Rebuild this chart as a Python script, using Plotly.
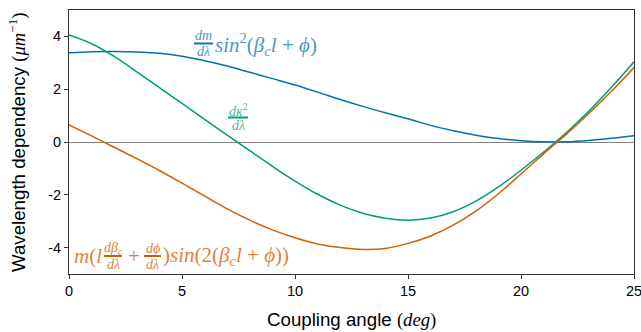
import plotly.graph_objects as go

# ---- data ----
angle = list(range(0, 26))
dm_term = [3.38, 3.42, 3.43, 3.41, 3.36, 3.25, 3.08, 2.88, 2.64, 2.40, 2.16, 1.89, 1.61,
           1.35, 1.11, 0.88, 0.63, 0.43, 0.26, 0.13, 0.05, 0.01, 0.01, 0.06, 0.14, 0.24]
dkappa_term = [4.05, 3.72, 3.24, 2.66, 2.06, 1.46, 0.86, 0.26, -0.33, -0.92, -1.48, -1.98, -2.39,
               -2.70, -2.89, -2.96, -2.88, -2.64, -2.24, -1.70, -1.07, -0.38, 0.35, 1.16, 2.07, 3.04]
dbeta_term = [0.65, 0.23, -0.20, -0.63, -1.08, -1.56, -2.05, -2.53, -2.96, -3.33, -3.63, -3.86, -4.00,
              -4.07, -4.03, -3.84, -3.56, -3.15, -2.62, -1.96, -1.21, -0.45, 0.29, 1.08, 1.92, 2.82]
xticks = [0, 5, 10, 15, 20, 25]
yticks = [-4, -2, 0, 2, 4]
yticklabels = ["-4", "-2", "0", "2", "4"]

BLUE, GREEN, ORANGE = "#0072B2", "#009E73", "#D55E00"
BLUE_T, GREEN_T, ORANGE_T = "rgba(0,114,178,0.75)", "rgba(0,158,115,0.75)", "rgba(213,94,0,0.8)"
MATH = "Liberation Serif"
L, R, T, B = 69, 7, 10, 58
W, H = 641, 332
PW, PH = W - L - R, H - T - B

fig = go.Figure()
for y, c in [(dm_term, BLUE), (dkappa_term, GREEN), (dbeta_term, ORANGE)]:
    fig.add_trace(go.Scatter(x=angle, y=y, mode="lines", line=dict(color=c, width=1.5, shape="spline"),
                             showlegend=False, hoverinfo="skip"))

# pixel -> paper helpers for label placement
def X(px):
    return (px - L) / PW


def Y(py):
    return 1 - (py - T) / PH


def txt(px, py, s, color, size, anchor="center", family=MATH, angle=0):
    fig.add_annotation(x=X(px), y=Y(py), xref="paper", yref="paper", text=s, showarrow=False,
                       xanchor=anchor, yanchor="middle", textangle=angle,
                       font=dict(family=family, size=size, color=color))


def frac(cx, cy, num, den, color, bar_color, w, size=14):
    txt(cx, cy - 8, num, color, size)
    txt(cx, cy + 8, den, color, size)
    fig.add_shape(type="line", xref="paper", yref="paper", x0=X(cx - w / 2), x1=X(cx + w / 2),
                  y0=Y(cy), y1=Y(cy), line=dict(color=bar_color, width=2))

# blue label
frac(203.5, 43.5, "<i>dm</i>", "<i>dλ</i>", BLUE_T, BLUE, 19)
txt(213, 44, "<i>sin</i><sup>2</sup>(<i>β<sub>c</sub>l</i> + <i>ϕ</i>)", BLUE_T, 21, "left")
# green label
frac(238, 117.5, "<i>dκ</i><sup>2</sup>", "<i>dλ</i>", GREEN_T, GREEN, 20)
# orange label
txt(72, 256, "<i>m</i>(<i>l</i>", ORANGE_T, 21, "left")
frac(113, 256, "<i>dβ<sub>c</sub></i>", "<i>dλ</i>", ORANGE_T, ORANGE, 18)
txt(134, 256, "+", ORANGE_T, 21)
frac(152.5, 256, "<i>dϕ</i>", "<i>dλ</i>", ORANGE_T, ORANGE, 17)
txt(161, 256, ")<i>sin</i>(2(<i>β<sub>c</sub>l</i> + <i>ϕ</i>))", ORANGE_T, 21, "left")

# axis titles
txt(351.5, 320, "Coupling angle <span style='font-family:Liberation Serif'>(<i>deg</i>)</span>",
    "black", 18.7, family="Liberation Sans")
txt(17, 142, "Wavelength dependency <span style='font-family:Liberation Serif'>(<i>μm</i><sup>−1</sup>)</span>",
    "black", 18.7, family="Liberation Sans", angle=-90)

axis_common = dict(showline=True, mirror=True, linecolor="#333333", linewidth=1, ticks="outside",
                   ticklen=4, tickcolor="#333333", showgrid=False, automargin=False,
                   tickfont=dict(family="Liberation Sans", size=14.5, color="black"))
fig.update_xaxes(range=[0, 25], tickvals=xticks, zeroline=False, ticklabeloverflow="allow", **axis_common)
fig.update_yaxes(range=[-5, 5], tickvals=yticks, ticktext=yticklabels, zeroline=True,
                 zerolinecolor="#808080", zerolinewidth=1, **axis_common)
fig.update_layout(width=W, height=H, margin=dict(l=L, r=R, t=T, b=B),
                  plot_bgcolor="white", paper_bgcolor="white")
fig.write_html("out.html", config={"displayModeBar": False},
               post_script="document.body.style.margin='0';document.body.style.overflow='hidden';")
